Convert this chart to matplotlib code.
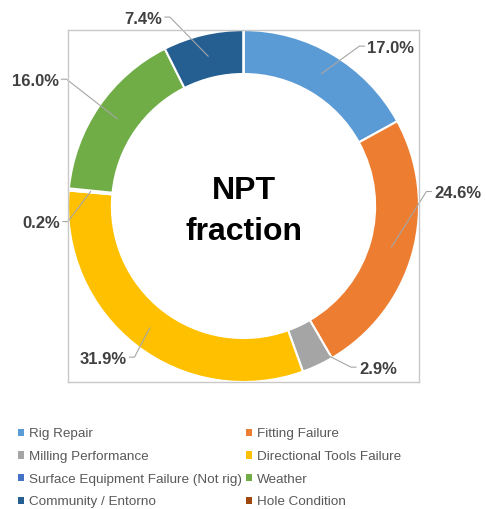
import numpy as np
import matplotlib.pyplot as plt
from matplotlib.patches import Patch

# Datos
categorias = ['Rig Repair', 'Fitting Failure', 'Milling Performance',
              'Directional Tools Failure', 'Surface Equipment Failure (Not rig)',
              'Weather', 'Community / Entorno', 'Hole Condition']
valores = [17.0, 24.6, 2.9, 31.9, 0.2, 16.0, 7.4, 0.0]
colores = ['#5B9BD5', '#ED7D31', '#A5A5A5', '#FFC000',
           '#4472C4', '#70AD47', '#255E91', '#9E480E']

# posiciones de las etiquetas (coordenadas del eje)
pos_etiquetas = [(0.840, 0.897), (1.222, 0.071), (0.766, -0.927), (-0.801, -0.870),
                 (-1.154, -0.100), (-1.188, 0.709), (-0.573, 1.062), None]

plt.rcParams['font.family'] = ['Liberation Sans', 'DejaVu Sans']

fig = plt.figure(figsize=(4.86, 5.09), dpi=100)
ax = fig.add_axes([68 / 486, 1 - 382 / 509, 351 / 486, 352 / 509])

wedges, _ = ax.pie(valores, colors=colores, startangle=90, counterclock=False,
                   radius=1.0, wedgeprops=dict(width=0.25, edgecolor='white', linewidth=1.5))
ax.set_xlim(-1.0, 1.0)
ax.set_ylim(-1.0, 1.0)
ax.set_aspect('auto')
ax.set_frame_on(True)
ax.set_xticks([])
ax.set_yticks([])
for s in ax.spines.values():
    s.set_visible(True)
    s.set_color('#C8C8C8')
    s.set_linewidth(1.0)

# etiquetas
total = sum(valores)
inicio = 90.0
textos = []
for v, pos in zip(valores, pos_etiquetas):
    medio = inicio - v / total * 360 / 2
    inicio -= v / total * 360
    if pos is None or v == 0:
        continue
    xa = 0.875 * np.cos(np.radians(medio))
    ya = 0.875 * np.sin(np.radians(medio))
    t = ax.text(pos[0], pos[1], f'{v:.1f}%', ha='center', va='center', fontsize=12,
                fontweight='bold', color='#404040', clip_on=False)
    textos.append((t, xa, ya))

# lineas guia con tramo horizontal
fig.canvas.draw()
rend = fig.canvas.get_renderer()
inv = ax.transData.inverted()
for t, xa, ya in textos:
    bb = t.get_window_extent(rend)
    pa = ax.transData.transform((xa, ya))
    ymid = (bb.y0 + bb.y1) / 2 + 2
    if bb.x0 > pa[0]:
        fin = (bb.x0 - 3, ymid)
        codo = (bb.x0 - 8, ymid)
    else:
        fin = (bb.x1 + 3, ymid)
        codo = (bb.x1 + 8, ymid)
    pts = inv.transform([pa, codo, fin])
    ax.plot(pts[:, 0], pts[:, 1], color='#A6A6A6', lw=0.8, clip_on=False)

# titulo central
ax.text(0, 0.037, 'NPT', ha='center', va='baseline', fontsize=23,
        fontweight='bold', color='black')
ax.text(0, -0.191, 'fraction', ha='center', va='baseline', fontsize=23,
        fontweight='bold', color='black')

# leyenda (orden por filas)
orden = [0, 2, 4, 6, 1, 3, 5, 7]
handles = [Patch(facecolor=colores[i], edgecolor='none') for i in orden]
etiquetas = [categorias[i] for i in orden]
fig.legend(handles, etiquetas, ncol=2, loc='upper left',
           bbox_to_anchor=(18 / 486, 1 - 428 / 509), frameon=False,
           fontsize=9.7, labelcolor='#595959', handlelength=0.45, handleheight=0.45,
           handletextpad=0.35, columnspacing=0.3, labelspacing=0.8,
           borderpad=0, borderaxespad=0)

plt.savefig('out.png', dpi=100)
